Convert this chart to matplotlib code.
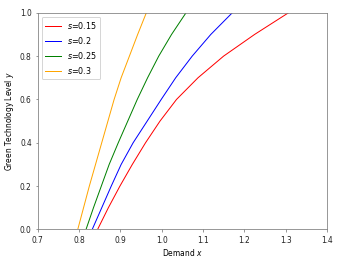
import matplotlib
matplotlib.use("Agg")
import matplotlib.pyplot as plt

# =========================
# DATA
# =========================

labels = ["$s$=0.15", "$s$=0.2", "$s$=0.25", "$s$=0.3"]
colors = ["red", "blue", "green", "orange"]

# green technology level (same y grid for every curve)
y_level = [0.0, 0.1, 0.2, 0.3, 0.4, 0.5, 0.6, 0.7, 0.8, 0.9, 1.0]

# demand x at each level
x_s015 = [0.845, 0.871, 0.899, 0.929, 0.961, 0.996, 1.036, 1.088, 1.150, 1.225, 1.307]
x_s02 = [0.832, 0.855, 0.878, 0.902, 0.931, 0.965, 0.999, 1.034, 1.074, 1.119, 1.171]
x_s025 = [0.817, 0.835, 0.854, 0.873, 0.895, 0.918, 0.941, 0.966, 0.993, 1.024, 1.059]
x_s03 = [0.797, 0.811, 0.825, 0.840, 0.855, 0.870, 0.885, 0.902, 0.922, 0.942, 0.963]

xs = [x_s015, x_s02, x_s025, x_s03]

# =========================
# PLOT
# =========================

plt.rcParams["font.size"] = 7.5

fig = plt.figure(figsize=(4.8, 3.6), dpi=72)
ax = fig.add_axes([0.109, 0.114, 0.837, 0.836])

for x, c, lab in zip(xs, colors, labels):
    ax.plot(x, y_level, color=c, lw=1.0, label=lab)

ax.set_xlim(0.7, 1.4)
ax.set_ylim(0, 1)
ax.set_xlabel("Demand $x$", labelpad=2)
ax.set_ylabel("Green Technology Level $y$", labelpad=4)

for sp in ax.spines.values():
    sp.set_color("#808080")
ax.tick_params(colors="#808080", labelcolor="#222222", length=2.5)

ax.legend(loc="upper left", fontsize=8)

plt.savefig("out.png")
